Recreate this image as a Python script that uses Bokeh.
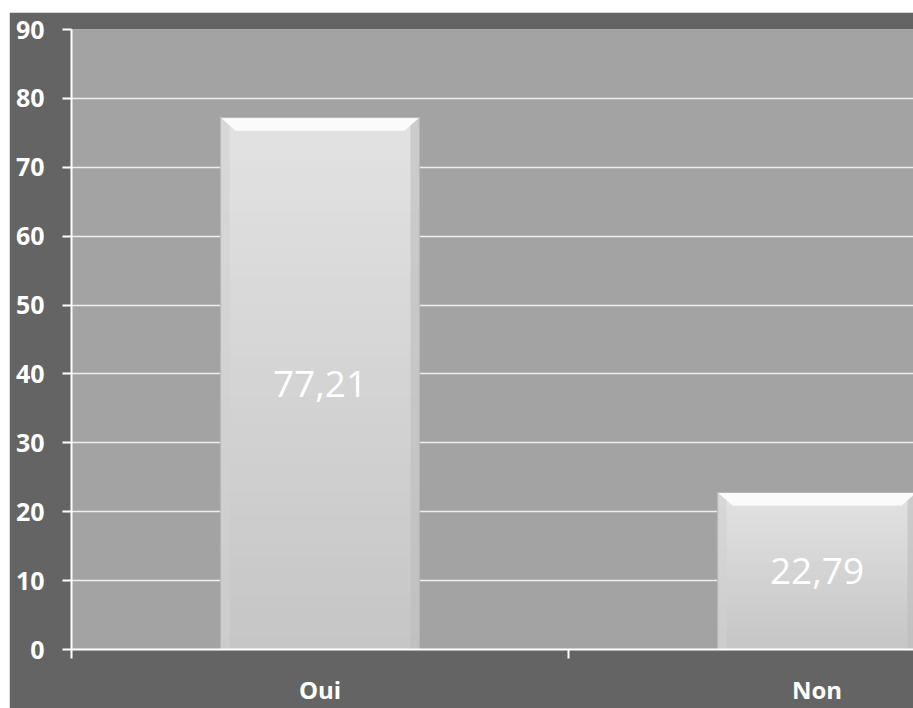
from bokeh.plotting import figure
from bokeh.models import ColumnDataSource, FixedTicker, LabelSet
from bokeh.core.properties import value
from bokeh.embed import file_html
from bokeh.resources import INLINE

categories = ["Oui", "Non"]
values = [77.21, 22.79]
value_labels = ["77,21", "22,79"]
y_ticks = [0, 10, 20, 30, 40, 50, 60, 70, 80, 90]

xs = [i + 0.5 for i in range(len(categories))]
bar_w = 0.4

p = figure(width=904, height=696, x_range=(0, 1.694), y_range=(0, 90),
           output_backend="svg", toolbar_location=None,
           min_border_left=62, min_border_right=0, min_border_top=17,
           min_border_bottom=54)
p.margin = (12, 0, 0, 9)
p.background_fill_color = "#a3a3a3"
p.border_fill_color = "#646464"
p.outline_line_color = None

p.xgrid.visible = False
p.ygrid.grid_line_color = "#eeeeee"
p.ygrid.grid_line_width = 1.5

# gradient bars (slices of each bar, light at top, darker at bottom)
N = 40
top_c = (0xe3, 0xe3, 0xe3)
bot_c = (0xc6, 0xc6, 0xc6)
sx, sb, st, sc = [], [], [], []
for x, v in zip(xs, values):
    for i in range(N):
        f = (i + 0.5) / N
        c = tuple(int(bot_c[k] + (top_c[k] - bot_c[k]) * f) for k in range(3))
        sx.append(x)
        sb.append(v * i / N)
        st.append(v * (i + 1) / N)
        sc.append("#%02x%02x%02x" % c)
p.vbar(x=sx, bottom=sb, top=st, width=bar_w, fill_color=sc, line_color=sc, line_width=1)

# side shading strips
side = 0.018
p.vbar(x=[x - bar_w / 2 + side / 2 for x in xs], top=values, bottom=0, width=side,
       fill_color="#d0d0d0", fill_alpha=0.6, line_color=None)
p.vbar(x=[x + bar_w / 2 - side / 2 for x in xs], top=values, bottom=0, width=side,
       fill_color="#bcbcbc", fill_alpha=0.6, line_color=None)

# top bevel (trapezoid)
bev_h = 1.9
bev_in = 0.03
px, py = [], []
for x, v in zip(xs, values):
    px.append([x - bar_w / 2, x + bar_w / 2, x + bar_w / 2 - bev_in, x - bar_w / 2 + bev_in])
    py.append([v, v, v - bev_h, v - bev_h])
p.patches(px, py, fill_color="#fbfbfb", line_color=None)

# bar outline
p.vbar(x=xs, top=values, bottom=0, width=bar_w, fill_color=None,
       line_color="#b5b5b5", line_width=1)

src = ColumnDataSource(dict(x=xs, y=[v / 2 for v in values], t=value_labels))
p.add_layout(LabelSet(x="x", y="y", text="t", source=src, text_color="white",
                      text_font=value("Open Sans"), text_font_size="37px",
                      text_align="center", text_baseline="middle"))

# axes
p.yaxis.ticker = FixedTicker(ticks=y_ticks)
p.yaxis.axis_line_color = "white"
p.yaxis.axis_line_width = 2
p.yaxis.major_tick_line_color = "white"
p.yaxis.major_tick_line_width = 2
p.yaxis.major_tick_out = 9
p.yaxis.major_tick_in = 0
p.yaxis.minor_tick_line_color = None
p.yaxis.major_label_text_color = "white"
p.yaxis.major_label_text_font = "Open Sans"
p.yaxis.major_label_text_font_style = "bold"
p.yaxis.major_label_text_font_size = "25px"
p.yaxis.major_label_standoff = 18

p.xaxis.ticker = FixedTicker(ticks=xs, minor_ticks=list(range(len(categories) + 1)))
p.xaxis.major_label_overrides = {x: c for x, c in zip(xs, categories)}
p.xaxis.axis_line_color = "white"
p.xaxis.axis_line_width = 2
p.xaxis.major_tick_line_color = None
p.xaxis.major_tick_out = 0
p.xaxis.major_tick_in = 0
p.xaxis.minor_tick_line_color = "white"
p.xaxis.minor_tick_line_width = 2
p.xaxis.minor_tick_out = 9
p.xaxis.minor_tick_in = 0
p.xaxis.major_label_text_color = "white"
p.xaxis.major_label_text_font = "Open Sans"
p.xaxis.major_label_text_font_style = "bold"
p.xaxis.major_label_text_font_size = "24px"
p.xaxis.major_label_standoff = 14

open("out.html", "w").write(file_html(p, INLINE))
